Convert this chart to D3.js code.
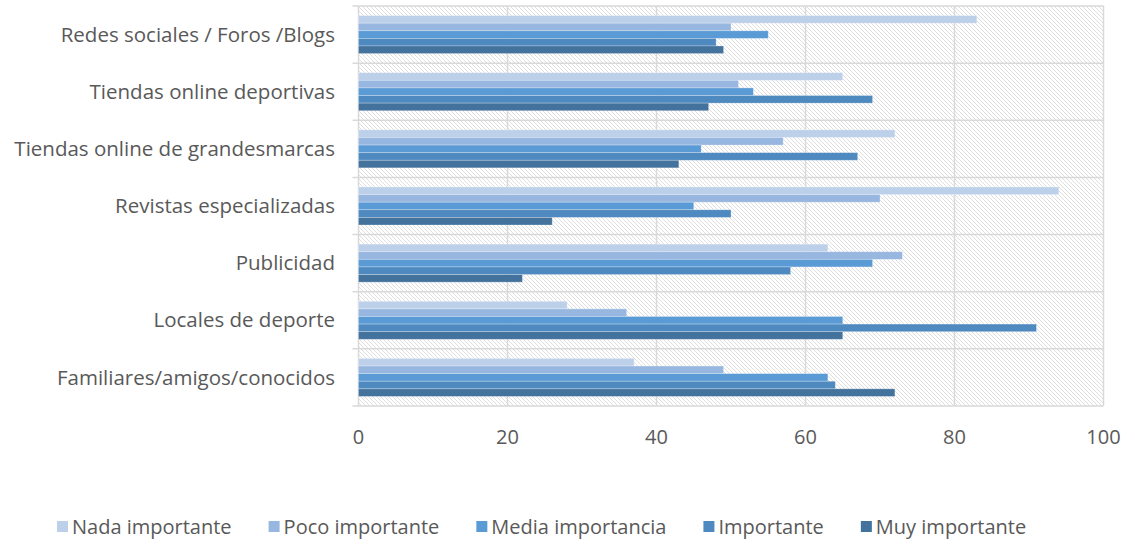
<!DOCTYPE html>
<html>
<head>
<meta charset="utf-8">
<script src="https://cdn.jsdelivr.net/npm/d3@7"></script>
<style>
  html, body { margin: 0; padding: 0; background: #fff; }
  svg { display: block; font-family: "Open Sans", "Noto Sans", sans-serif; }
</style>
</head>
<body>
<svg id="chart" width="1135" height="546"></svg>
<script>
// Categories, top to bottom
const categories = [
  "Redes sociales / Foros /Blogs",
  "Tiendas online deportivas",
  "Tiendas online de grandesmarcas",
  "Revistas especializadas",
  "Publicidad",
  "Locales de deporte",
  "Familiares/amigos/conocidos"
];

const seriesNames = ["Nada importante", "Poco importante", "Media importancia", "Importante", "Muy importante"];
const seriesColors = ["#bdd0ea", "#97b7e0", "#5b9bd5", "#4e89bf", "#43729d"];

// One array per series, in category order
const nadaImportante   = [83, 65, 72, 94, 63, 28, 37];
const pocoImportante   = [50, 51, 57, 70, 73, 36, 49];
const mediaImportancia = [55, 53, 46, 45, 69, 65, 63];
const importante       = [48, 69, 67, 50, 58, 91, 64];
const muyImportante    = [49, 47, 43, 26, 22, 65, 72];
const seriesValues = [nadaImportante, pocoImportante, mediaImportancia, importante, muyImportante];

const xTicks = [0, 20, 40, 60, 80, 100];

const svg = d3.select("#chart");
const plotLeft = 358.5, plotRight = 1103.5, plotTop = 6, plotBottom = 406;

const x = d3.scaleLinear().domain([0, 100]).range([plotLeft, plotRight]);
const y = d3.scaleBand().domain(categories).range([plotTop, plotBottom])
  .paddingInner(0.335).paddingOuter(0.1675);
const ySub = d3.scaleBand().domain(seriesNames).range([0, y.bandwidth()]);

// Hatched plot background
const defs = svg.append("defs");
const pat = defs.append("pattern")
  .attr("id", "hatch").attr("patternUnits", "userSpaceOnUse")
  .attr("width", 4).attr("height", 4);
pat.append("rect").attr("width", 4).attr("height", 4).attr("fill", "#ffffff");
pat.append("path").attr("d", "M-1,-1 L5,5 M-1,3 L1,5 M3,-1 L5,1")
  .attr("stroke", "#dedede").attr("stroke-width", 1);

svg.append("rect")
  .attr("x", plotLeft).attr("y", plotTop)
  .attr("width", plotRight - plotLeft).attr("height", plotBottom - plotTop)
  .attr("fill", "url(#hatch)");

// Grid lines
const gridColor = "#d9d9d9";
svg.append("g").selectAll("line").data(xTicks.slice(1)).join("line")
  .attr("x1", d => x(d)).attr("x2", d => x(d))
  .attr("y1", plotTop).attr("y2", plotBottom)
  .attr("stroke", gridColor).attr("stroke-width", 1.5);

const step = y.step();
const edges = d3.range(categories.length + 1).map(i => plotTop + i * step);
svg.append("g").selectAll("line").data(edges).join("line")
  .attr("x1", plotLeft - 6).attr("x2", plotRight)
  .attr("y1", d => d).attr("y2", d => d)
  .attr("stroke", gridColor).attr("stroke-width", 1.5);

// Category axis line
svg.append("line")
  .attr("x1", plotLeft).attr("x2", plotLeft)
  .attr("y1", plotTop).attr("y2", plotBottom)
  .attr("stroke", gridColor).attr("stroke-width", 1.5);

// Bars
const groups = svg.append("g").selectAll("g").data(categories).join("g")
  .attr("transform", c => `translate(0,${y(c)})`);
groups.selectAll("rect")
  .data((c, i) => seriesNames.map((s, k) => ({ s, k, v: seriesValues[k][i] })))
  .join("rect")
  .attr("x", x(0))
  .attr("y", d => ySub(d.s))
  .attr("width", d => x(d.v) - x(0))
  .attr("height", ySub.bandwidth())
  .attr("fill", d => seriesColors[d.k])
  .attr("stroke", "rgba(255,255,255,0.35)")
  .attr("stroke-width", 0.75);

// Category labels
const textColor = "#595959";
svg.append("g").selectAll("text").data(categories).join("text")
  .attr("x", 335)
  .attr("y", c => y(c) + y.bandwidth() / 2)
  .attr("dy", "0.35em")
  .attr("text-anchor", "end")
  .attr("fill", textColor)
  .style("font-size", "20.5px")
  .text(c => c);

// Value axis labels
svg.append("g").selectAll("text").data(xTicks).join("text")
  .attr("x", d => x(d))
  .attr("y", 437)
  .attr("dy", "0.35em")
  .attr("text-anchor", "middle")
  .attr("fill", textColor)
  .style("font-size", "20px")
  .text(d => d);

// Legend: entries laid out left to right with a fixed gap
const legendGap = 37, swatch = 11, swatchPad = 4;
const legend = svg.append("g");
let cursor = 57;
seriesNames.forEach((name, i) => {
  const item = legend.append("g").attr("transform", `translate(${cursor},527)`);
  item.append("rect")
    .attr("x", 0).attr("y", -6).attr("width", swatch).attr("height", swatch)
    .attr("fill", seriesColors[i]);
  const t = item.append("text")
    .attr("x", swatch + swatchPad).attr("y", 0).attr("dy", "0.35em")
    .attr("fill", textColor)
    .style("font-size", "20px")
    .text(name);
  cursor += swatch + swatchPad + t.node().getComputedTextLength() + legendGap;
});
</script>
</body>
</html>
